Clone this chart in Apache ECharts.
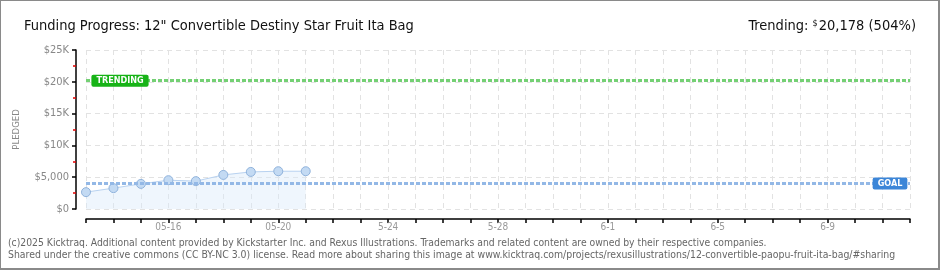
<!DOCTYPE html>
<html><head><meta charset="utf-8">
<script src="https://cdn.jsdelivr.net/npm/echarts@6/dist/echarts.min.js"></script>
<style>
html,body{margin:0;padding:0;background:#fff;}
#frame{position:absolute;left:0;top:0;width:940px;height:270px;box-sizing:border-box;border:1px solid #8a8a8a;border-right-width:2px;border-bottom-width:2px;}
#c{position:absolute;left:0;top:0;width:940px;height:270px;}
</style></head>
<body>
<div id="c"></div><div id="frame"></div>
<script>
const titleText = 'Funding Progress: 12" Convertible Destiny Star Fruit Ita Bag';
const trendingText = ['Trending: ', '$', '20,178 (504%)'];
const footerLines = [
  '(c)2025 Kicktraq. Additional content provided by Kickstarter Inc. and Rexus Illustrations. Trademarks and related content are owned by their respective companies.',
  'Shared under the creative commons (CC BY-NC 3.0) license. Read more about sharing this image at www.kicktraq.com/projects/rexusillustrations/12-convertible-paopu-fruit-ita-bag/#sharing'
];
const dates = ['05-13','05-14','05-15','05-16','05-17','05-18','05-19','05-20','05-21','05-22','05-23','05-24','05-25','05-26','05-27','05-28','05-29','05-30','05-31','06-01','06-02','06-03','06-04','06-05','06-06','06-07','06-08','06-09','06-10','06-11','06-12'];
const xLabels = ['','','','05-16','','','','05-20','','','','5-24','','','','5-28','','','','6-1','','','','6-5','','','','6-9','','',''];
const pledged = [2650, 3280, 3950, 4530, 4380, 5360, 5830, 5940, 5940];
const yTickLabels = ['$0','$5,000','$10K','$15K','$20K','$25K'];
const goal = 4000;
const trending = 20178;

const chart = echarts.init(document.getElementById('c'), null, {renderer:'canvas'});
const pix = '"DejaVu Sans Condensed","DejaVu Sans",sans-serif';
const head = '"Liberation Sans Narrow","DejaVu Sans Condensed",sans-serif';
chart.setOption({
  animation:false,
  backgroundColor:'#fff',
  title:[
    {text:titleText,left:19,top:14,textStyle:{fontFamily:head,fontSize:14.5,fontWeight:'normal',color:'#111'}},
    {text:'{a|'+trendingText[0]+'}{s|'+trendingText[1]+'}{a|'+trendingText[2]+'}',right:19,top:14,
     textStyle:{fontWeight:'normal',rich:{a:{fontFamily:head,fontSize:14.5,fontWeight:'normal',color:'#111'},
                      s:{fontFamily:head,fontSize:9,fontWeight:'normal',color:'#111',verticalAlign:'top',padding:[0,1,6,0]}}}}
  ],
  graphic:[
    {type:'text',left:8,top:238,style:{text:footerLines[0],font:'10.3px "DejaVu Sans Condensed",sans-serif',fill:'#666'}},
    {type:'text',left:8,top:250,style:{text:footerLines[1],font:'10.4px "DejaVu Sans Condensed",sans-serif',fill:'#666'}}
  ],
  grid:{left:86,right:30,top:50,bottom:61},
  xAxis:{type:'category',data:dates,boundaryGap:false,offset:10,
    axisLine:{show:true,onZero:false,lineStyle:{color:'#000',width:1.5,opacity:1}},
    axisTick:{show:true,interval:0,length:4,lineStyle:{color:'#000',width:1.5}},
    axisLabel:{interval:0,formatter:(v,i)=>xLabels[i],color:'#999',fontSize:10,fontFamily:pix,margin:3},
    splitLine:{show:true,interval:0,lineStyle:{color:'#e2e2e2',type:[5,4]}}},
  yAxis:{type:'value',min:0,max:25000,interval:5000,offset:10,
    name:'PLEDGED',nameLocation:'middle',nameGap:54,nameRotate:90,
    nameTextStyle:{color:'#888',fontSize:9.5,fontFamily:pix},
    axisLine:{show:true,onZero:false,lineStyle:{color:'#000',width:1.5,opacity:1}},
    axisTick:{show:true,length:4,lineStyle:{color:'#000',width:1.5}},
    minorTick:{show:true,splitNumber:2,length:3,lineStyle:{color:'#e00000',width:1.5}},
    axisLabel:{formatter:(v)=>yTickLabels[Math.round(v/5000)],color:'#888',fontSize:11,fontFamily:pix,margin:7},
    splitLine:{show:true,lineStyle:{color:'#e2e2e2',type:[5,4]}}},
  series:[{
    type:'line',data:pledged,symbol:'circle',symbolSize:9,
    itemStyle:{color:'#c3daf3',borderColor:'#90b3dc',borderWidth:1},
    lineStyle:{color:'#b8d2f0',width:1},
    areaStyle:{color:'rgba(218,234,251,0.6)'},
    markLine:{silent:true,symbol:'none',label:{show:false},
      data:[
        {yAxis:goal,lineStyle:{color:'#93b8e6',type:[4,2],width:3}},
        {yAxis:trending,lineStyle:{color:'#74d074',type:[4,2],width:3}}
      ]},
    markPoint:{silent:true,symbol:'rect',symbolSize:0,
      data:[
        {coord:[dates[0],trending],label:{show:true,formatter:'TRENDING',offset:[34,0],backgroundColor:'#17b317',color:'#fff',fontSize:9,fontWeight:'bold',fontFamily:pix,padding:[2,5,1,5],borderRadius:2}},
        {coord:[dates[dates.length-1],goal],label:{show:true,formatter:'GOAL',offset:[-20,0],backgroundColor:'#3c86d8',color:'#fff',fontSize:9,fontWeight:'bold',fontFamily:pix,padding:[2,5,1,5],borderRadius:2}}
      ]}
  }]
});
</script>
</body></html>
